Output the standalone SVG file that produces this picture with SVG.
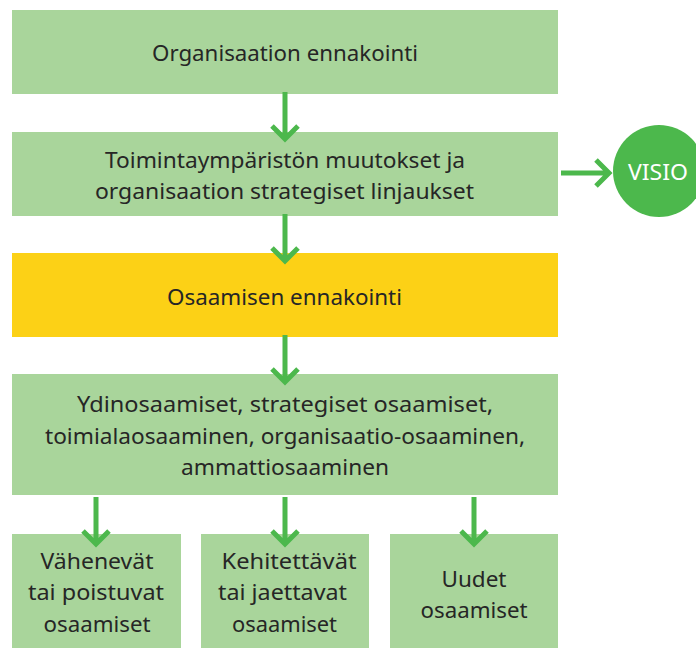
<svg xmlns="http://www.w3.org/2000/svg" width="696" height="648" viewBox="0 0 696 648">
<defs>
<style>
.box{fill:#a9d59b}
.yel{fill:#fcd116}
.t{font-family:"Noto Sans","DejaVu Sans",sans-serif;font-size:22.5px;fill:#262626;text-anchor:middle}
.w{fill:#ffffff}
.arr{stroke:#4cb84c;stroke-width:5;fill:none}
</style>
</defs>
<rect width="696" height="648" fill="#ffffff"/>
<g id="n1"><rect class="box" x="12" y="10" width="546" height="84"/><text class="t" x="285" y="61" textLength="266" lengthAdjust="spacingAndGlyphs">Organisaation ennakointi</text></g>
<g id="n2"><rect class="box" x="12" y="132" width="546" height="84"/><text class="t" x="285" y="168" textLength="360" lengthAdjust="spacingAndGlyphs">Toimintaympäristön muutokset ja</text><text class="t" x="284.5" y="199" textLength="379" lengthAdjust="spacingAndGlyphs">organisaation strategiset linjaukset</text></g>
<g id="n3"><rect class="yel" x="12" y="253" width="546" height="84"/><text class="t" x="284.5" y="305" textLength="235" lengthAdjust="spacingAndGlyphs">Osaamisen ennakointi</text></g>
<g id="n4"><rect class="box" x="12" y="374" width="546" height="121"/><text class="t" x="285" y="412" textLength="416" lengthAdjust="spacingAndGlyphs">Ydinosaamiset, strategiset osaamiset,</text><text class="t" x="285" y="444" textLength="480" lengthAdjust="spacingAndGlyphs">toimialaosaaminen, organisaatio-osaaminen,</text><text class="t" x="285" y="475" textLength="208" lengthAdjust="spacingAndGlyphs">ammattiosaaminen</text></g>
<g id="n5"><rect class="box" x="12" y="534" width="169" height="114"/><text class="t" x="97" y="569" textLength="113" lengthAdjust="spacingAndGlyphs">Vähenevät</text><text class="t" x="96" y="600" textLength="136" lengthAdjust="spacingAndGlyphs">tai poistuvat</text><text class="t" x="97" y="632" textLength="107" lengthAdjust="spacingAndGlyphs">osaamiset</text></g>
<g id="n6"><rect class="box" x="201" y="534" width="168" height="114"/><text class="t" x="289" y="569" textLength="135" lengthAdjust="spacingAndGlyphs">Kehitettävät</text><text class="t" x="282.5" y="600" textLength="129" lengthAdjust="spacingAndGlyphs">tai jaettavat</text><text class="t" x="284.5" y="632" textLength="105" lengthAdjust="spacingAndGlyphs">osaamiset</text></g>
<g id="n7"><rect class="box" x="390" y="534" width="168" height="114"/><text class="t" x="474" y="587" textLength="65" lengthAdjust="spacingAndGlyphs">Uudet</text><text class="t" x="474" y="618" textLength="107" lengthAdjust="spacingAndGlyphs">osaamiset</text></g>
<g id="visio"><circle cx="659" cy="171" r="46" fill="#4cb84c"/><text class="t w" x="658" y="180" textLength="60" lengthAdjust="spacingAndGlyphs">VISIO</text></g>
<g id="connectors">
<path class="arr" d="M285 92V140M272 126L285 139L298 126"/>
<path class="arr" d="M285 214V262M272 248L285 261L298 248"/>
<path class="arr" d="M285 335V383M272 369L285 382L298 369"/>
<path class="arr" d="M96 497V545M83 531L96 544L109 531"/>
<path class="arr" d="M285 497V545M272 531L285 544L298 531"/>
<path class="arr" d="M474 497V545M461 531L474 544L487 531"/>
<path class="arr" d="M561 173H610M596 160L609 173L596 186"/>
</g>
</svg>
